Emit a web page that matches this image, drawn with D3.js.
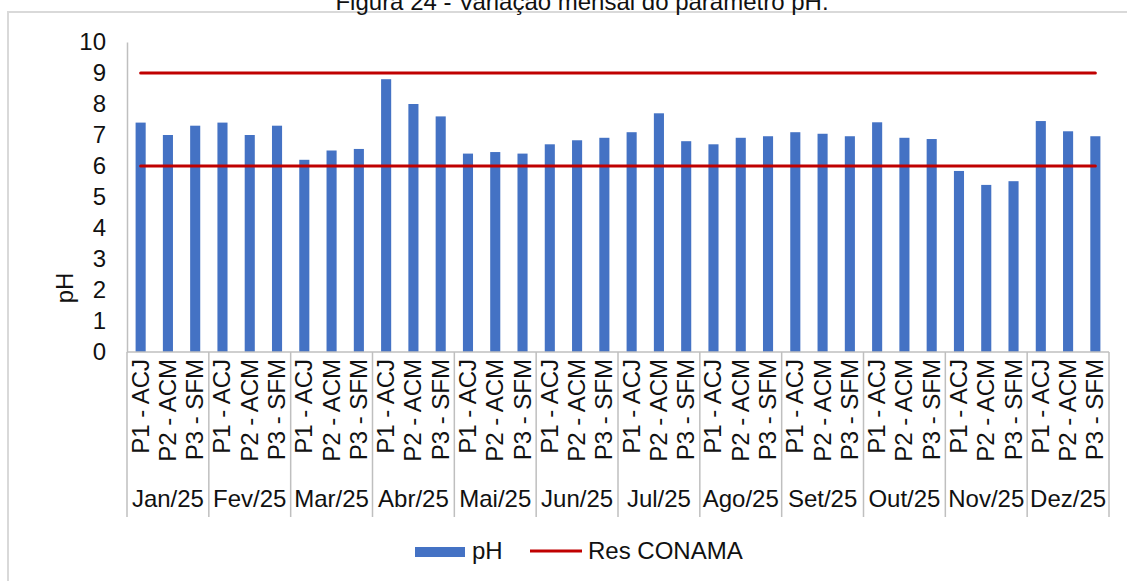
<!DOCTYPE html>
<html lang="pt">
<head>
<meta charset="utf-8">
<title>Variação mensal do parâmetro pH</title>
<script src="https://d3js.org/d3.v7.min.js"></script>
<style>
  body, html { margin: 0; padding: 0; background: #fff; }
  svg { display: block; }
  text { font-family: "Liberation Sans", Arial, sans-serif; fill: #111; }
</style>
</head>
<body>
<svg id="chart" width="1127" height="581"></svg>
<script>
// data
var months = ["Jan/25", "Fev/25", "Mar/25", "Abr/25", "Mai/25", "Jun/25",
              "Jul/25", "Ago/25", "Set/25", "Out/25", "Nov/25", "Dez/25"];
var points = ["P1 - ACJ", "P2 - ACM", "P3 - SFM"];
var phValues = [7.4, 7.0, 7.3,   7.4, 7.0, 7.3,   6.2, 6.5, 6.55,  8.8, 8.0, 7.6,
                6.4, 6.45, 6.4,  6.7, 6.83, 6.91, 7.09, 7.7, 6.8,  6.7, 6.91, 6.96,
                7.09, 7.04, 6.96, 7.41, 6.91, 6.87, 5.84, 5.39, 5.51, 7.45, 7.12, 6.96];
var conamaLimits = [6, 9];
var yTicks = [0, 1, 2, 3, 4, 5, 6, 7, 8, 9, 10];
var seriesNames = ["pH", "Res CONAMA"];

var blue = "#4472C4", red = "#C00000", grey = "#bfbfbf";
var fs = "24px";

var svg = d3.select("#chart");

// chart frame + title (title is cut at the top in the original)
svg.append("rect")
    .attr("x", 8).attr("y", 12)
    .attr("width", 1140).attr("height", 600)
    .attr("fill", "none")
    .attr("stroke", "#d9d9d9")
    .attr("stroke-width", 2);

svg.append("text")
    .attr("x", 582).attr("y", 10)
    .attr("text-anchor", "middle")
    .style("font-size", fs)
    .text("Figura 24 - Variação mensal do parâmetro pH.");

var plotLeft = 127, plotRight = 1109, plotTop = 42, plotBottom = 352;

// one slot per month/point pair
var cats = [];
months.forEach(function(m, i) {
    points.forEach(function(p, j) {
        cats.push({ month: m, point: p, idx: i * 3 + j, value: phValues[i * 3 + j] });
    });
});

var x = d3.scaleBand()
    .domain(cats.map(function(d) { return d.idx; }))
    .range([plotLeft, plotRight])
    .paddingInner(0.63)
    .paddingOuter(0.315);

var xMonth = d3.scaleBand()
    .domain(months)
    .range([plotLeft, plotRight]);

var y = d3.scaleLinear()
    .domain([0, 10])
    .range([plotBottom, plotTop]);

// bars
svg.append("g").selectAll("rect")
    .data(cats)
    .enter().append("rect")
    .attr("x", function(d) { return x(d.idx); })
    .attr("y", function(d) { return y(d.value); })
    .attr("width", x.bandwidth())
    .attr("height", function(d) { return y(0) - y(d.value); })
    .attr("fill", blue);

// CONAMA limit lines, from first to last category centre
var firstC = x(0) + x.bandwidth() / 2,
    lastC = x(cats.length - 1) + x.bandwidth() / 2;
svg.append("g").selectAll("line")
    .data(conamaLimits)
    .enter().append("line")
    .attr("x1", firstC).attr("x2", lastC)
    .attr("y1", function(d) { return y(d); })
    .attr("y2", function(d) { return y(d); })
    .attr("stroke", red)
    .attr("stroke-width", 3)
    .attr("stroke-linecap", "round");

// y axis
var yAxis = svg.append("g")
    .attr("transform", "translate(" + plotLeft + ",0)")
    .call(d3.axisLeft(y).tickValues(yTicks).tickSize(0).tickPadding(21));
yAxis.select(".domain").attr("stroke", grey).attr("stroke-width", 1.5);
yAxis.selectAll("text")
    .style("font-size", fs)
    .style("font-family", "Liberation Sans, Arial, sans-serif")
    .attr("fill", "#111");

svg.append("text")
    .attr("transform", "translate(73,288) rotate(-90)")
    .attr("text-anchor", "middle")
    .style("font-size", fs)
    .text("pH");

// x axis baseline
svg.append("line")
    .attr("x1", plotLeft).attr("x2", plotRight)
    .attr("y1", plotBottom).attr("y2", plotBottom)
    .attr("stroke", grey).attr("stroke-width", 1.5);

// month separators
var seps = months.map(function(m) { return xMonth(m); }).concat([plotRight]);
svg.append("g").selectAll("line")
    .data(seps)
    .enter().append("line")
    .attr("x1", function(d) { return d; })
    .attr("x2", function(d) { return d; })
    .attr("y1", plotBottom).attr("y2", 517)
    .attr("stroke", grey).attr("stroke-width", 1.5);

// point labels (rotated)
svg.append("g").selectAll("text")
    .data(cats)
    .enter().append("text")
    .attr("transform", function(d) {
        return "translate(" + (x(d.idx) + x.bandwidth() / 2 + 8) + ",359) rotate(-90)";
    })
    .attr("text-anchor", "end")
    .style("font-size", fs)
    .text(function(d) { return d.point; });

// month labels
svg.append("g").selectAll("text")
    .data(months)
    .enter().append("text")
    .attr("x", function(d) { return xMonth(d) + xMonth.bandwidth() / 2; })
    .attr("y", 507)
    .attr("text-anchor", "middle")
    .style("font-size", fs)
    .text(function(d) { return d; });

// legend
var legend = svg.append("g");
legend.append("rect")
    .attr("x", 415).attr("y", 547)
    .attr("width", 50).attr("height", 10)
    .attr("fill", blue);
legend.append("text")
    .attr("x", 472).attr("y", 559)
    .style("font-size", fs)
    .text(seriesNames[0]);
legend.append("line")
    .attr("x1", 530).attr("x2", 582)
    .attr("y1", 551).attr("y2", 551)
    .attr("stroke", red).attr("stroke-width", 3);
legend.append("text")
    .attr("x", 588).attr("y", 559)
    .style("font-size", fs)
    .text(seriesNames[1]);
</script>
</body>
</html>
